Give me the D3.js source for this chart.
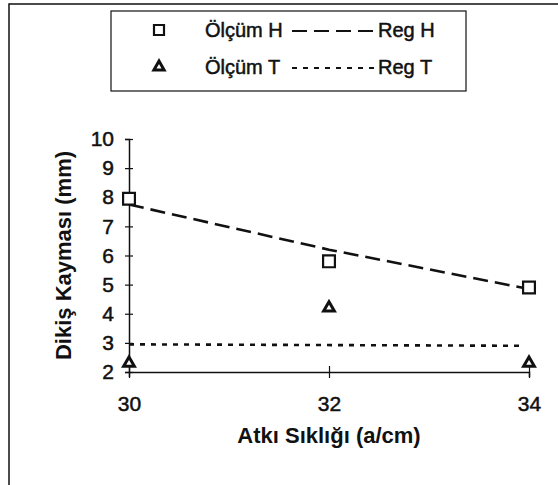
<!DOCTYPE html>
<html>
<head>
<meta charset="utf-8">
<script src="https://cdn.jsdelivr.net/npm/d3@7"></script>
<style>
  body { margin: 0; background: #fff; }
  svg { display: block; font-family: "Liberation Sans", Arial, sans-serif; }
</style>
</head>
<body>
<div id="chart"></div>
<script>
// ---------- Data ----------
const xValues = [30, 32, 34];
const olcumH = [7.95, 5.8, 4.9];
const olcumT = [2.3, 4.2, 2.3];
const regH = [7.75, 6.2, 4.85];
const regT = [2.95, 2.93, 2.9];
const xTicks = [30, 32, 34];
const yTicks = [2, 3, 4, 5, 6, 7, 8, 9, 10];
const xTitle = "Atkı Sıklığı (a/cm)";
const yTitle = "Dikiş Kayması (mm)";

const width = 558;
const height = 485;
const ink = "#111";

const svg = d3.select("#chart").append("svg")
  .attr("width", width)
  .attr("height", height);

// outer frame (only top and left edges visible)
svg.append("path")
  .attr("d", `M9,${height} L9,4 L${width},4`)
  .attr("fill", "none")
  .attr("stroke", ink)
  .attr("stroke-width", 1.5);

// ---------- Scales ----------
const x = d3.scaleLinear().domain([30, 34]).range([129, 529]);
const y = d3.scaleLinear().domain([2, 10]).range([372, 139]);

// ---------- Axes ----------
const yAxis = svg.append("g")
  .attr("transform", `translate(${x(30)},0)`)
  .call(d3.axisLeft(y).tickValues(yTicks).tickSize(4).tickFormat(d3.format("d")));

const xAxis = svg.append("g")
  .attr("transform", `translate(0,${y(2)})`)
  .call(d3.axisBottom(x).tickValues(xTicks).tickSize(5).tickFormat(d3.format("d")));

[yAxis, xAxis].forEach((g) => {
  g.select(".domain").attr("stroke", ink).attr("stroke-width", 1.5);
  g.selectAll(".tick line").attr("stroke", ink).attr("stroke-width", 1.2);
  g.selectAll(".tick text")
    .attr("fill", ink)
    .attr("stroke", ink)
    .attr("stroke-width", 0.5)
    .style("font-size", "21px")
    .style("font-family", "'Liberation Sans', Arial, sans-serif");
});

// ticks cross the axis line
yAxis.selectAll(".tick line").attr("x1", 4).attr("x2", -4);
yAxis.selectAll(".tick text").attr("x", -15);
xAxis.selectAll(".tick line").attr("y1", -6).attr("y2", 6);
xAxis.selectAll(".tick text").attr("y", 24);

// axis titles
svg.append("text")
  .attr("x", x(32))
  .attr("y", 443)
  .attr("text-anchor", "middle")
  .style("font-size", "22px")
  .style("font-weight", "bold")
  .attr("fill", ink)
  .text(xTitle);

svg.append("text")
  .attr("transform", `translate(71,${(y(2) + y(10)) / 2}) rotate(-90)`)
  .attr("text-anchor", "middle")
  .style("font-size", "22px")
  .style("font-weight", "bold")
  .attr("fill", ink)
  .text(yTitle);

// ---------- Regression lines ----------
const line = d3.line().x((d) => x(d[0])).y((d) => y(d[1]));

svg.append("path")
  .datum(d3.zip(xValues, regH))
  .attr("d", line)
  .attr("fill", "none")
  .attr("stroke", ink)
  .attr("stroke-width", 2.6)
  .attr("stroke-dasharray", "15,7");

svg.append("path")
  .datum([[xValues[0], regT[0]], [xValues[2] - 0.04, regT[2]]])
  .attr("d", line)
  .attr("fill", "none")
  .attr("stroke", ink)
  .attr("stroke-width", 2.6)
  .attr("stroke-dasharray", "5,6");

// ---------- Markers ----------
const square = d3.symbol().type(d3.symbolSquare).size(140);
const triangle = d3.symbol().type(d3.symbolTriangle).size(50);

svg.append("g").selectAll("path")
  .data(d3.zip(xValues, olcumH))
  .join("path")
  .attr("d", square)
  .attr("transform", (d) => `translate(${x(d[0])},${y(d[1])})`)
  .attr("fill", "#fff")
  .attr("stroke", ink)
  .attr("stroke-width", 2.2);

svg.append("g").selectAll("path")
  .data(d3.zip(xValues, olcumT))
  .join("path")
  .attr("d", triangle)
  .attr("transform", (d) => `translate(${x(d[0])},${y(d[1])})`)
  .attr("fill", "#fff")
  .attr("stroke", ink)
  .attr("stroke-width", 3)
  .attr("stroke-linejoin", "miter");

// ---------- Legend ----------
const legend = svg.append("g");
legend.append("rect")
  .attr("x", 111).attr("y", 11)
  .attr("width", 355).attr("height", 80)
  .attr("fill", "#fff")
  .attr("stroke", ink)
  .attr("stroke-width", 1.2);

const legendRows = [
  { label: "Ölçüm H", reg: "Reg H", shape: d3.symbol().type(d3.symbolSquare).size(100), sw: 2.2, dash: "15,7", cy: 30 },
  { label: "Ölçüm T", reg: "Reg T", shape: d3.symbol().type(d3.symbolTriangle).size(45), sw: 3, dash: "5,6", cy: 67 }
];

legendRows.forEach((r) => {
  legend.append("path")
    .attr("d", r.shape)
    .attr("transform", `translate(159,${r.cy})`)
    .attr("fill", "#fff")
    .attr("stroke", ink)
    .attr("stroke-width", r.sw);
  legend.append("text")
    .attr("x", 205).attr("y", r.cy + 7)
    .style("font-size", "20px")
    .attr("fill", ink)
    .attr("stroke", ink)
    .attr("stroke-width", 0.5)
    .text(r.label);
  legend.append("line")
    .attr("x1", 292).attr("x2", 376)
    .attr("y1", r.cy + 1).attr("y2", r.cy + 1)
    .attr("stroke", ink)
    .attr("stroke-width", 2)
    .attr("stroke-dasharray", r.dash);
  legend.append("text")
    .attr("x", 378).attr("y", r.cy + 7)
    .style("font-size", "20px")
    .attr("fill", ink)
    .attr("stroke", ink)
    .attr("stroke-width", 0.5)
    .text(r.reg);
});
</script>
</body>
</html>
